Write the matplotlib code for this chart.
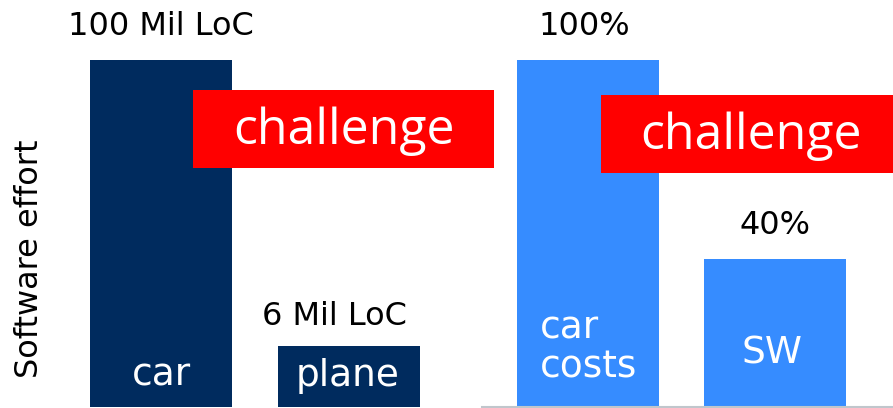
import matplotlib
matplotlib.use("Agg")
import matplotlib.pyplot as plt
from matplotlib.patches import Rectangle

# ---- data ----
left_categories = ["car", "plane"]
left_heights = [100, 17.6]          # visual bar heights (car = 100)
left_value_labels = ["100 Mil LoC", "6 Mil LoC"]

right_categories = ["car\ncosts", "SW"]
right_heights = [100, 42.6]         # visual bar heights (%)
right_value_labels = ["100%", "40%"]

callout_text = "challenge"
y_label = "Software effort"

NAVY = "#002b5e"
BLUE = "#368cff"
RED = "#ff0000"

W, H = 893, 408
fig = plt.figure(figsize=(W / 100, H / 100), dpi=100)

def fx(px):
    return px / W

def fy(py):
    return 1 - py / H

base_py = 407
top_left = 60

# Left axes
unit_l = 188.0
c0_l = 161.0
axl_left, axl_right = 50, 470
axl = fig.add_axes([fx(axl_left), fy(base_py), fx(axl_right - axl_left), (base_py) / H])
axl.set_xlim((axl_left - c0_l) / unit_l, (axl_right - c0_l) / unit_l)
ymax_l = 100 * base_py / (base_py - top_left)
axl.set_ylim(0, ymax_l)
xs = list(range(len(left_categories)))
axl.bar(xs, left_heights, width=142 / unit_l, color=NAVY)
for s in axl.spines.values():
    s.set_visible(False)
axl.set_xticks([]); axl.set_yticks([])
axl.patch.set_alpha(0)

# Right axes
unit_r = 187.0
c0_r = 588.0
axr_left, axr_right = 482, 893
axr = fig.add_axes([fx(axr_left), fy(base_py), fx(axr_right - axr_left), (base_py) / H])
axr.set_xlim((axr_left - c0_r) / unit_r, (axr_right - c0_r) / unit_r)
axr.set_ylim(0, ymax_l)
xr = list(range(len(right_categories)))
axr.bar(xr, right_heights, width=142 / unit_r, color=BLUE)
for k, s in axr.spines.items():
    s.set_visible(k == "bottom")
axr.spines["bottom"].set_color("#c0c6cc")
axr.spines["bottom"].set_linewidth(1.5)
axr.set_xticks([]); axr.set_yticks([])
axr.patch.set_alpha(0)

val_font = dict(family="DejaVu Sans", fontsize=23)
in_font = dict(family="DejaVu Sans", fontsize=27)

# value labels above bars (baseline placed a fixed pixel offset above bar tops)
def px_to_val(px):
    return px * ymax_l / base_py

axl.text(xs[0], left_heights[0] + px_to_val(25), left_value_labels[0], ha="center", va="baseline", color="black", **val_font)
axl.text(xs[1] - 0.075, left_heights[1] + px_to_val(21), left_value_labels[1], ha="center", va="baseline", color="black", **val_font)
axr.text(xr[0] - 0.02, right_heights[0] + px_to_val(25), right_value_labels[0], ha="center", va="baseline", color="black", **val_font)
axr.text(xr[1], right_heights[1] + px_to_val(25), right_value_labels[1], ha="center", va="baseline", color="black", **val_font)

# category labels inside bars
fig.text(fx(161), fy(386), left_categories[0], ha="center", va="baseline", color="white", **in_font)
fig.text(fx(348), fy(386), left_categories[1], ha="center", va="baseline", color="white", **in_font)
fig.text(fx(540), fy(385), right_categories[0], ha="left", va="bottom", color="white",
         linespacing=1.1, **in_font)
fig.text(fx(772), fy(363), right_categories[1], ha="center", va="baseline", color="white", **in_font)

# y label
fig.text(fx(30), fy(259), y_label, rotation=90, ha="center", va="center", color="black", **val_font)

# challenge callouts
for (x0, y0, x1, y1) in [(193, 90, 494, 168), (601, 95, 893, 173)]:
    cx = (x0 + x1) / 2 if x1 < 800 else (x0 + x1) / 2 + 4
    fig.add_artist(Rectangle((fx(x0), fy(y1)), fx(x1 - x0), (y1 - y0) / H,
                             transform=fig.transFigure, facecolor=RED, edgecolor="none"))
    fig.text(fx(cx), fy((y0 + y1) / 2 + 2), callout_text,
             ha="center", va="center", color="white", family="Open Sans", fontsize=36)

fig.savefig("out.png", dpi=100)
